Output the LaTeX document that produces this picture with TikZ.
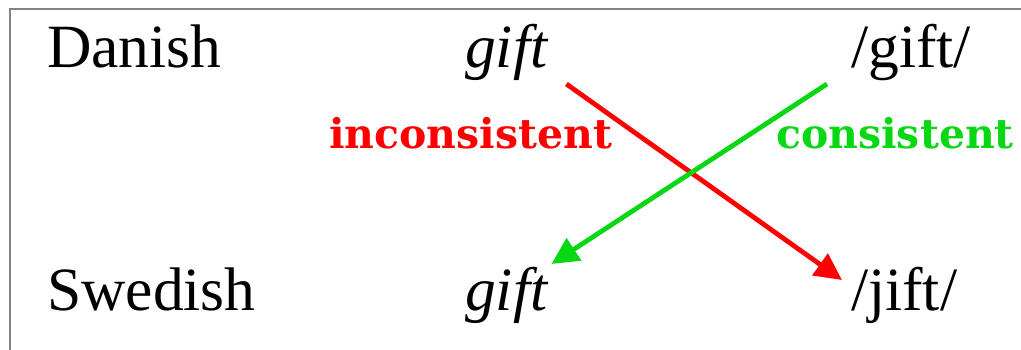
\documentclass[tikz,border=0pt]{standalone}
\usepackage{fontspec}
\setmainfont{Liberation Serif}
\newfontfamily\boldserif{DejaVu Serif}
\usetikzlibrary{arrows.meta,calc}
\definecolor{myred}{RGB}{255,0,0}
\definecolor{mygreen}{RGB}{8,216,20}
\definecolor{framegray}{RGB}{130,130,130}
\tikzset{
  word/.style={anchor=base west,inner sep=0pt,font=\fontsize{61.5}{61.5}\selectfont},
  itword/.style={word,font=\fontsize{61.5}{61.5}\selectfont\itshape},
  tag/.style={anchor=base west,inner sep=0pt,font=\boldserif\bfseries\fontsize{41}{41}\selectfont},
  link/.style={line width=4.8pt,-{Triangle[length=27pt,width=26pt]}}
}
\begin{document}
\begin{tikzpicture}[x=1pt,y=-1pt]
\useasboundingbox (0,0) rectangle (1021,350);
\begin{scope}
\clip (0,0) rectangle (1021,350);
\draw[framegray,line width=2pt] (10,9) rectangle (1040,370);
\end{scope}
\node[word] (danish) at (47,68) {Danish};
\node[itword] (dgift) at (465,68) {gift};
\node[word] (dgiftp) at (851,68) {/gift/};
\node[word] (swedish) at (47,310) {Swedish};
\node[itword] (sgift) at (465,310) {gift};
\node[word] (sjift) at (851,310) {/jift/};
\node[tag,text=myred] (incons) at (329,149) {inconsistent};
\node[tag,text=mygreen] (cons) at (776,149) {consistent};
\draw[link,myred] ($(dgift.base east)+(19,16)$) -- ($(sjift.base west)+(-9,-30)$);
\draw[link,mygreen] ($(dgiftp.base west)+(-24,16)$) -- ($(sgift.base east)+(4,-46)$);
\end{tikzpicture}
\end{document}
